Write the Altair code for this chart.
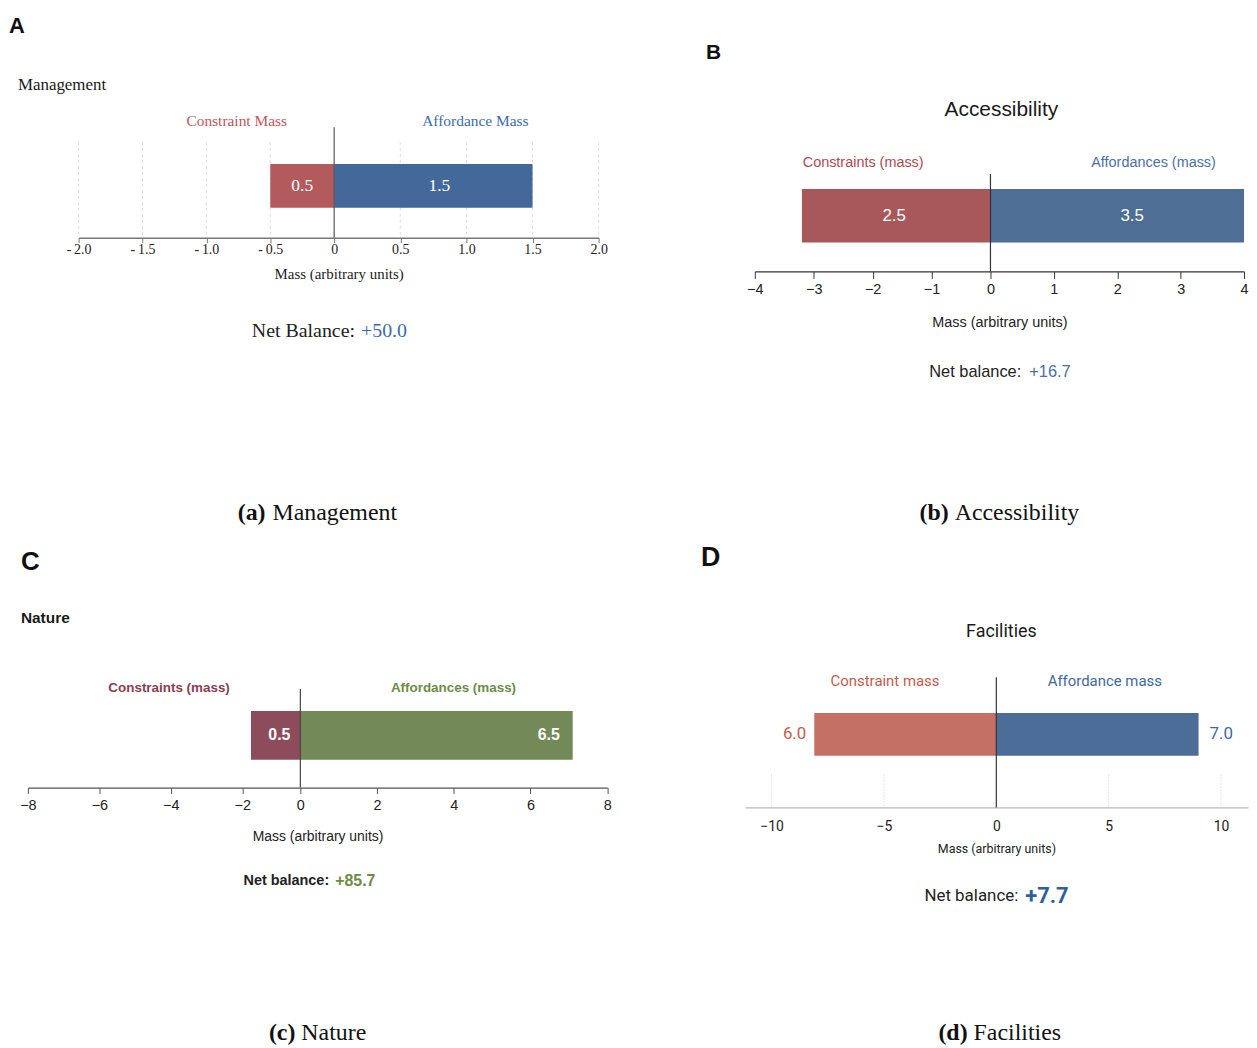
import altair as alt
import pandas as pd

# ---------------- data ----------------
panel_names = ["Management", "Accessibility", "Nature", "Facilities"]
panel_letters = ["A", "B", "C", "D"]
caption_tags = ["(a)", "(b)", "(c)", "(d)"]
constraint_titles = ["Constraint Mass", "Constraints (mass)", "Constraints (mass)", "Constraint mass"]
affordance_titles = ["Affordance Mass", "Affordances (mass)", "Affordances (mass)", "Affordance mass"]
# drawn bar extents (mass units, as they appear on each axis)
constraint_extent = [0.5, 3.2, 1.7, 8.1]
affordance_extent = [1.5, 4.0, 7.1, 9.0]
# printed value labels
constraint_labels = ["0.5", "2.5", "0.5", "6.0"]
affordance_labels = ["1.5", "3.5", "6.5", "7.0"]
net_prefix = ["Net Balance:", "Net balance:", "Net balance:", "Net balance:"]
net_values = ["+50.0", "+16.7", "+85.7", "+7.7"]
axis_ticks = [
    [-2.0, -1.5, -1.0, -0.5, 0.0, 0.5, 1.0, 1.5, 2.0],
    [-4, -3, -2, -1, 0, 1, 2, 3, 4],
    [-8, -6, -4, -2, 0, 2, 4, 6, 8],
    [-10, -5, 0, 5, 10],
]
grid_ticks = [
    [-2.0, -1.5, -1.0, -0.5, 0.5, 1.0, 1.5, 2.0],
    [],
    [],
    [-10, -5, 5, 10],
]
axis_title = "Mass (arbitrary units)"

SERIF = "Liberation Serif, Times New Roman, serif"
SANS = "Liberation Sans, Arial, sans-serif"
NARROW = "Liberation Sans, Arial, sans-serif"
ROBOTO = "Roboto, Inter, sans-serif"

LW, RW = 620, 621
TH, BH = 516, 516

styles = [
    dict(  # A
        W=LW, H=TH, font=SERIF, sx=1,
        letter=(0, 15, 22), title=("left", 9, 75, 17, "normal"),
        ctitle=(229, 111, 15.5), atitle=(469, 111, 15.5), ttl_weight="normal",
        tcol_c="#c0565b", tcol_a="#3a6bb0",
        bar_c="#b35a5c", bar_a="#43699b",
        zero=(117, 228, "#555555"), band=(154, 198),
        domain=[-2, 0, 2], rng=[70, 327, 593],
        grid=(132, 228, "#dddddd", [3, 3]),
        axis=dict(offset=-(TH - 228), tickSize=5, labelPadding=0, titlePadding=10,
                  labelFont=SERIF, labelFontSize=14, titleFont=SERIF, titleFontSize=15,
                  domainColor="#777777", tickColor="#777777", domainWidth=1.5,
                  labelExpr="datum.value == 0 ? '0' : (datum.value < 0 ? '-\u2009' : '') + format(abs(datum.value), '.1f')"),
        lab_mode=("mid", "mid"), lab_dx=(0, 6), lab_align=("center", "center"),
        lab_col=("white", "white"), lab_size=17.5, lab_weight="normal",
        net=(348, 354, 322, 20, 20, "normal", "normal", "#222222"),
        net_col="#3a6bb0",
        caption=(258, 265, 505),
    ),
    dict(  # B
        W=RW, H=TH, font=SANS, sx=4,
        letter=(78, 42, 21), title=("center", 375, 100, 21, "normal"),
        ctitle=(236, 153, 14.5), atitle=(528, 153, 14.5), ttl_weight="normal",
        tcol_c="#b04a4f", tcol_a="#4a70a8",
        bar_c="#a8575a", bar_a="#4e6e96",
        zero=(164, 262, "#333333"), band=(179, 233),
        domain=[-4, 0, 4], rng=[127, 364, 619],
        grid=None,
        axis=dict(offset=-(TH - 262), tickSize=7, labelPadding=4, titlePadding=20,
                  labelFont=SANS, labelFontSize=14.5, titleFont=SANS, titleFontSize=14.5,
                  domainColor="#333333", tickColor="#333333", domainWidth=1.3),
        lab_mode=("mid", "mid"), lab_dx=(-2, 15), lab_align=("center", "center"),
        lab_col=("white", "white"), lab_size=17, lab_weight="normal",
        net=(395, 403, 363, 16.5, 16.5, "normal", "normal", "#222222"),
        net_col="#4a70a8",
        caption=(322, 328, 505),
    ),
    dict(  # C
        W=LW, H=BH, font=NARROW, sx=1,
        letter=(12, 37, 26), title=("left", 12, 94, 15.5, "bold"),
        ctitle=(161, 164, 13.5), atitle=(447, 164, 13.5), ttl_weight="bold",
        tcol_c="#8a3d4f", tcol_a="#6d8b45",
        bar_c="#8c4c5c", bar_a="#738958",
        zero=(165, 264, "#444444"), band=(187, 236),
        domain=[-8, -2, 0, 8], rng=[19, 234.6, 293, 601.6],
        grid=None,
        axis=dict(offset=-(BH - 264), tickSize=6, labelPadding=5, titlePadding=18,
                  labelFont=NARROW, labelFontSize=14.5, titleFont=NARROW, titleFontSize=14,
                  domainColor="#555555", tickColor="#555555", domainWidth=1.3),
        lab_mode=("start", "end"), lab_dx=(-10, -13), lab_align=("right", "right"),
        lab_col=("white", "white"), lab_size=16, lab_weight="bold",
        net=(322, 328, 358, 14.5, 16, "bold", "bold", "#222222"),
        net_col="#6d8b45",
        caption=(288, 294, 511),
    ),
    dict(  # D
        W=RW, H=BH, font=ROBOTO, sx=4,
        letter=(73, 33, 27), title=("center", 375, 108, 18, "normal"),
        ctitle=(258, 157, 15), atitle=(479, 157, 15), ttl_weight="normal",
        tcol_c="#c65a4f", tcol_a="#3f68a0",
        bar_c="#c57065", bar_a="#4c6d98",
        zero=(153, 284, "#333333"), band=(189, 232),
        domain=[-11.19, 11.2], rng=[117, 623],
        grid=(251, 284, "#cccccc", [1, 2]),
        axis=dict(offset=-(BH - 284), ticks=False, tickSize=0, labelPadding=12, titlePadding=9,
                  labelFont=ROBOTO, labelFontSize=14, titleFont=ROBOTO, titleFontSize=12.5,
                  domainColor="#bbbbbb", domainWidth=1.3),
        lab_mode=("end", "end"), lab_dx=(-8, 11), lab_align=("right", "left"),
        lab_col=("#c65a4f", "#3f68a0"), lab_size=17, lab_weight="normal",
        net=(392, 399, 373, 17, 22, "normal", "bold", "#222222"),
        net_col="#2f5fa0",
        caption=(341, 347, 511),
    ),
]


def text_layer(text, x, y, size, font, color="#222222", weight="normal", align="left", baseline="middle"):
    return alt.Chart(pd.DataFrame({"t": [text]})).mark_text(
        align=align, baseline=baseline, font=font, fontSize=size, fontWeight=weight, color=color
    ).encode(text="t:N", x=alt.value(x), y=alt.value(y))


def build_panel(i):
    s = styles[i]
    sx = s["sx"]
    name = panel_names[i]
    xs = alt.Scale(domain=s["domain"], range=[r + sx for r in s["rng"]], zero=False, nice=False)
    ys = alt.Scale(range=list(s["band"]), paddingInner=0, paddingOuter=0)

    df = pd.DataFrame({
        "side": ["Constraint", "Affordance"],
        "start": [0.0, 0.0],
        "end": [-constraint_extent[i], affordance_extent[i]],
        "label": [constraint_labels[i], affordance_labels[i]],
        "cat": [name, name],
    })

    axis = alt.Axis(values=axis_ticks[i], title=axis_title, grid=False, orient="bottom",
                    labelColor="#222222", titleColor="#222222", titleFontWeight="normal",
                    labelFlush=False, labelOverlap=False, **s["axis"])

    def X(field):
        return alt.X(field, scale=xs, axis=axis, title=axis_title)

    layers = []
    if s["grid"] is not None and grid_ticks[i]:
        g0, g1, gc, gd = s["grid"]
        layers.append(
            alt.Chart(pd.DataFrame({"g": grid_ticks[i]})).mark_rule(color=gc, strokeDash=gd, strokeWidth=1)
            .encode(x=X("g:Q"), y=alt.value(g0), y2=alt.value(g1))
        )

    for side, col in (("Constraint", s["bar_c"]), ("Affordance", s["bar_a"])):
        layers.append(
            alt.Chart(df).transform_filter(alt.datum.side == side).mark_bar(color=col).encode(
                x=X("start:Q"),
                x2="end:Q",
                y=alt.Y("cat:N", scale=ys, axis=None),
            )
        )

    z0, z1, zc = s["zero"]
    layers.append(
        alt.Chart(pd.DataFrame({"z": [0.0]})).mark_rule(color=zc, strokeWidth=1.2)
        .encode(x=X("z:Q"), y=alt.value(z0), y2=alt.value(z1))
    )

    for k, side in enumerate(["Constraint", "Affordance"]):
        mode = s["lab_mode"][k]
        lab = alt.Chart(df).transform_filter(alt.datum.side == side).transform_calculate(
            mid="datum.end / 2"
        ).mark_text(
            align=s["lab_align"][k], baseline="middle", dx=s["lab_dx"][k], font=s["font"],
            fontSize=s["lab_size"], fontWeight=s["lab_weight"], color=s["lab_col"][k]
        ).encode(
            x=X(f"{mode}:Q"),
            y=alt.Y("cat:N", scale=ys, axis=None),
            text="label:N",
        )
        layers.append(lab)

    lx, ly, lsz = s["letter"]
    layers.append(text_layer(panel_letters[i], lx + sx, ly, lsz, SANS, color="#111111", weight="bold"))
    ta, tx, ty, tsz, tw = s["title"]
    layers.append(text_layer(name, tx + sx, ty, tsz, s["font"], color="#1a1a1a", weight=tw, align=ta))
    cx, cy, csz = s["ctitle"]
    layers.append(text_layer(constraint_titles[i], cx + sx, cy, csz, s["font"], color=s["tcol_c"],
                             weight=s["ttl_weight"], align="center"))
    axx, ayy, asz = s["atitle"]
    layers.append(text_layer(affordance_titles[i], axx + sx, ayy, asz, s["font"], color=s["tcol_a"],
                             weight=s["ttl_weight"], align="center"))
    nx0, nx1, ny, nsz0, nsz1, nw0, nw1, ncol = s["net"]
    layers.append(text_layer(net_prefix[i], nx0 + sx, ny, nsz0, s["font"], color=ncol, weight=nw0, align="right"))
    layers.append(text_layer(net_values[i], nx1 + sx, ny, nsz1, s["font"], color=s["net_col"], weight=nw1, align="left"))
    c0, c1, cyy = s["caption"]
    layers.append(text_layer(caption_tags[i], c0 + sx, cyy, 24, SERIF, color="#111111", weight="bold", align="right"))
    layers.append(text_layer(name, c1 + sx, cyy, 24, SERIF, color="#111111", weight="normal", align="left"))

    return alt.layer(*layers).properties(width=s["W"], height=s["H"])


row1 = alt.hconcat(build_panel(0), build_panel(1), spacing=0)
row2 = alt.hconcat(build_panel(2), build_panel(3), spacing=0)
chart = alt.vconcat(row1, row2, spacing=0).properties(padding=0).configure_view(stroke=None)

chart.save("out.html", embed_options={"renderer": "svg", "actions": False})
